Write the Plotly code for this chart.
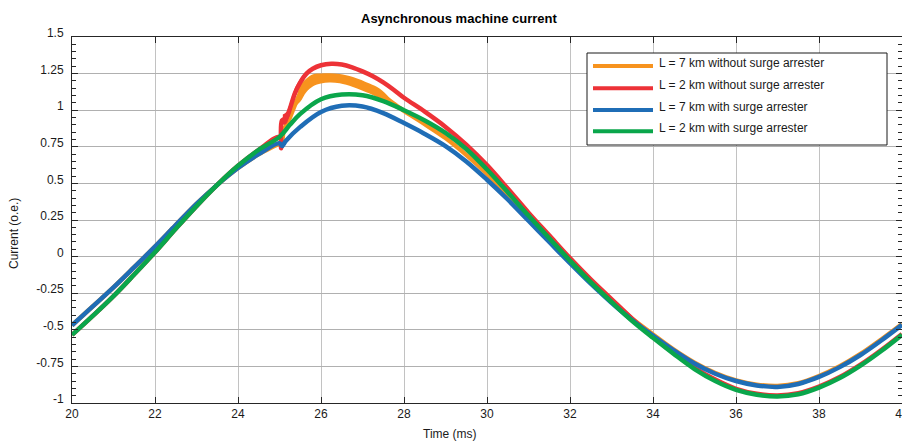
import plotly.graph_objects as go

# ---------------- data ----------------
t_pre = [20, 20.5, 21, 21.5, 22, 22.5, 23, 23.5, 24, 24.5, 25.0]
i_pre_7km = [-0.47, -0.34, -0.21, -0.072, 0.068, 0.215, 0.36, 0.49, 0.605, 0.70, 0.775]
i_pre_2km = [-0.535, -0.405, -0.27, -0.122, 0.03, 0.19, 0.345, 0.49, 0.62, 0.73, 0.818]

t_tail = [28, 28.5, 29, 29.5, 30, 30.5, 31, 31.5, 32, 32.5, 33, 33.5, 34, 34.5, 35, 35.5,
          36, 36.5, 37, 37.5, 38, 38.5, 39, 39.5, 40]

# L = 7 km without surge arrester (orange)
t_orange_mid = [25.06, 25.1, 25.25, 25.5, 25.75, 26, 26.25, 26.5, 26.75, 27, 27.25, 27.5, 27.75]
i_orange_mid = [0.79, 0.86, 0.95, 1.113, 1.19, 1.216, 1.22, 1.213, 1.195, 1.165, 1.135, 1.095, 1.045]
i_orange_tail = [0.995, 0.905, 0.81, 0.695, 0.565, 0.418, 0.262, 0.11, -0.035, -0.175, -0.30, -0.425, -0.532,
                 -0.635, -0.724, -0.795, -0.846, -0.875, -0.884, -0.865, -0.816, -0.749, -0.665, -0.566, -0.46]

# L = 2 km without surge arrester (red)
t_red_mid = [25.04, 25.06, 25.17, 25.25, 25.37, 25.5, 25.65, 25.8, 26, 26.25, 26.5, 26.75, 27, 27.25, 27.5, 27.75]
i_red_mid = [0.74, 0.93, 0.95, 1.01, 1.115, 1.19, 1.25, 1.283, 1.307, 1.317, 1.312, 1.293, 1.265, 1.232, 1.19, 1.14]
i_red_tail = [1.085, 0.99, 0.886, 0.765, 0.625, 0.465, 0.30, 0.145, -0.01, -0.155, -0.29, -0.425, -0.548,
              -0.66, -0.76, -0.84, -0.903, -0.937, -0.948, -0.933, -0.888, -0.823, -0.738, -0.638, -0.528]

# L = 7 km with surge arrester (blue)
t_blue_mid = [25.06, 25.15, 25.5, 26, 26.5, 27, 27.5]
i_blue_mid = [0.755, 0.79, 0.886, 0.988, 1.03, 1.025, 0.98]
i_blue_tail = [0.912, 0.838, 0.755, 0.65, 0.525, 0.39, 0.245, 0.10, -0.045, -0.185, -0.315, -0.435, -0.54,
               -0.64, -0.73, -0.80, -0.85, -0.88, -0.89, -0.87, -0.822, -0.755, -0.672, -0.573, -0.466]

# L = 2 km with surge arrester (green)
t_green_mid = [25.25, 25.5, 26, 26.5, 27, 27.5]
i_green_mid = [0.90, 0.975, 1.075, 1.107, 1.102, 1.062]
i_green_tail = [1.0, 0.93, 0.845, 0.735, 0.595, 0.44, 0.28, 0.125, -0.028, -0.175, -0.31, -0.44, -0.555,
                -0.665, -0.768, -0.85, -0.91, -0.943, -0.955, -0.94, -0.895, -0.83, -0.745, -0.645, -0.534]

# visible envelope of the noisy parts
t_orange_band = [25.4, 25.5, 25.65, 25.81, 26.0, 26.2, 26.45, 26.77, 27.17, 27.41, 27.65, 27.85]
orange_band_hi = [1.07, 1.17, 1.216, 1.245, 1.25, 1.252, 1.247, 1.227, 1.182, 1.148, 1.085, 1.02]
orange_band_lo = [1.03, 1.057, 1.125, 1.164, 1.182, 1.189, 1.184, 1.159, 1.114, 1.08, 1.04, 1.005]

t_red_band = [25.08, 25.17, 25.25, 25.37, 25.5, 25.65, 25.8]
red_band_hi = [0.97, 0.99, 1.05, 1.15, 1.215, 1.265, 1.29]
red_band_lo = [0.90, 0.91, 0.97, 1.08, 1.165, 1.235, 1.278]

series_names = ["L = 7 km without surge arrester", "L = 2 km without surge arrester",
                "L = 7 km with surge arrester", "L = 2 km with surge arrester"]
series_colors = ["#F7931E", "#ED3237", "#1F6DB6", "#0AA64B"]

x_ticks = [20, 22, 24, 26, 28, 30, 32, 34, 36, 38, 40]
y_ticks = [-1, -0.75, -0.5, -0.25, 0, 0.25, 0.5, 0.75, 1, 1.25, 1.5]
y_ticklabels = ["-1", "-0.75", "-0.5", "-0.25", "0", "0.25", "0.5", "0.75", "1", "1.25", "1.5"]

title_text = "Asynchronous machine current"
x_title = "Time (ms)"
y_title = "Current (o.e.)"

# full series (pre-event part + event part + tail)
t_orange = t_pre + t_orange_mid + t_tail
i_orange = i_pre_7km + i_orange_mid + i_orange_tail
t_red = t_pre + t_red_mid + t_tail
i_red = i_pre_2km + i_red_mid + i_red_tail
t_blue = t_pre + t_blue_mid + t_tail
i_blue = i_pre_7km + i_blue_mid + i_blue_tail
t_green = t_pre + t_green_mid + t_tail
i_green = i_pre_2km + i_green_mid + i_green_tail

# ---------------- figure ----------------
W, H = 902, 441
ML, MR, MT, MB = 72, 0, 37, 38
PW, PH = W - ML - MR, H - MT - MB
FONT = "Liberation Sans, Arial, Helvetica, sans-serif"
TXT = "#1a1a1a"


def px(x):
    return (x - ML) / PW


def py(y):
    return (H - MB - y) / PH


fig = go.Figure()
LW = 4.5


def band(t, lo, hi, color):
    fig.add_trace(go.Scatter(x=t, y=lo, mode="lines", line=dict(width=0, shape="spline", color=color),
                             showlegend=False, hoverinfo="skip"))
    fig.add_trace(go.Scatter(x=t, y=hi, mode="lines", line=dict(width=0, shape="spline", color=color),
                             fill="tonexty", fillcolor=color, showlegend=False, hoverinfo="skip"))


band(t_orange_band, orange_band_lo, orange_band_hi, series_colors[0])
fig.add_trace(go.Scatter(x=t_orange, y=i_orange, mode="lines", name=series_names[0],
                         line=dict(color=series_colors[0], width=LW, shape="spline"), showlegend=False))
band(t_red_band, red_band_lo, red_band_hi, series_colors[1])
fig.add_trace(go.Scatter(x=t_red, y=i_red, mode="lines", name=series_names[1],
                         line=dict(color=series_colors[1], width=LW, shape="spline"), showlegend=False))
fig.add_trace(go.Scatter(x=t_blue, y=i_blue, mode="lines", name=series_names[2],
                         line=dict(color=series_colors[2], width=LW, shape="spline"), showlegend=False))
fig.add_trace(go.Scatter(x=t_green, y=i_green, mode="lines", name=series_names[3],
                         line=dict(color=series_colors[3], width=LW, shape="spline"), showlegend=False))

# manual legend (box, line samples, labels)
shapes = [dict(type="rect", xref="paper", yref="paper", x0=px(587), x1=px(887), y0=py(145), y1=py(53),
               line=dict(color="#1a1a1a", width=1), fillcolor="white", layer="above")]
annotations = []
line_y = [66, 88.3, 110, 131.3]
text_y = [63.3, 84.7, 106.7, 128.3]
for k in range(4):
    shapes.append(dict(type="line", xref="paper", yref="paper", x0=px(593), x1=px(653),
                       y0=py(line_y[k]), y1=py(line_y[k]),
                       line=dict(color=series_colors[k], width=4), layer="above"))
    annotations.append(dict(xref="paper", yref="paper", x=px(657), y=py(text_y[k]), text=series_names[k],
                            showarrow=False, xanchor="left", yanchor="middle",
                            font=dict(family=FONT, size=12, color=TXT)))

annotations.append(dict(xref="paper", yref="paper", x=px(459), y=py(18), text="<b>" + title_text + "</b>",
                        showarrow=False, xanchor="center", yanchor="middle",
                        font=dict(family=FONT, size=13, color="#000000")))
annotations.append(dict(xref="paper", yref="paper", x=px(450), y=py(434), text=x_title,
                        showarrow=False, xanchor="center", yanchor="middle",
                        font=dict(family=FONT, size=12, color=TXT)))
annotations.append(dict(xref="paper", yref="paper", x=px(14), y=py(233), text=y_title, textangle=-90,
                        showarrow=False, xanchor="center", yanchor="middle",
                        font=dict(family=FONT, size=12, color=TXT)))

fig.update_layout(
    width=W, height=H,
    margin=dict(l=ML, r=MR, t=MT, b=MB, autoexpand=False),
    paper_bgcolor="white", plot_bgcolor="white",
    font=dict(family=FONT, size=12, color=TXT),
    showlegend=False,
    shapes=shapes, annotations=annotations,
)
fig.update_xaxes(range=[20, 40], tickvals=x_ticks, ticks="inside", ticklen=6, tickcolor="#262626",
                 showline=True, linecolor="#262626", linewidth=1, mirror="ticks",
                 showgrid=True, gridcolor="#c2c2c2", gridwidth=1, zeroline=False,
                 ticklabeloverflow="allow",
                 tickfont=dict(family=FONT, size=12, color=TXT))
fig.update_yaxes(range=[-1, 1.5], tickvals=y_ticks, ticktext=y_ticklabels, ticks="inside", ticklen=6,
                 tickcolor="#262626", showline=True, linecolor="#262626", linewidth=1, mirror="ticks",
                 showgrid=True, gridcolor="#b0b0b0", gridwidth=1, zeroline=False,
                 minor=dict(ticks="inside", dtick=0.05, ticklen=4, tickcolor="#262626", showgrid=False),
                 ticklabelstandoff=5, ticklabelshift=-4, ticklabeloverflow="allow",
                 tickfont=dict(family=FONT, size=12, color=TXT))

fig.write_html("out.html")
